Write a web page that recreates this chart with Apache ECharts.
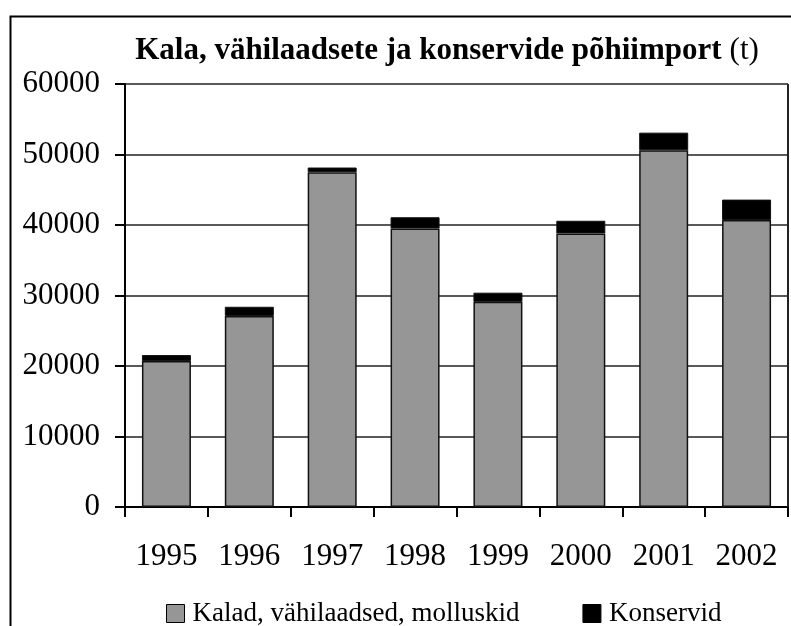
<!DOCTYPE html>
<html><head><meta charset="utf-8">
<script src="https://cdn.jsdelivr.net/npm/echarts@6/dist/echarts.min.js"></script>
<style>html,body{margin:0;padding:0;background:#fff}#c{width:791px;height:626px}</style>
</head><body><div id="c"></div>
<script>
const years = ['1995','1996','1997','1998','1999','2000','2001','2002'];
const kalad = [20700, 27100, 47500, 39500, 29100, 38800, 50600, 40700];
const konservid = [850, 1300, 650, 1600, 1300, 1800, 2500, 2900];
const yTicks = [0, 10000, 20000, 30000, 40000, 50000, 60000];
const seriesNames = ['Kalad, vähilaadsed, molluskid', 'Konservid'];
const titleMain = 'Kala, vähilaadsete ja konservide põhiimport';
const titleUnit = '(t)';

const chart = echarts.init(document.getElementById('c'), null, {renderer:'canvas'});
const font = '"Liberation Serif", "Times New Roman", serif';
chart.setOption({
  animation: false,
  backgroundColor: '#fff',
  textStyle: {fontFamily: font},
  graphic: [{
    type: 'rect', left: 8, top: 14, z: -1,
    shape: {width: 800, height: 700},
    style: {fill: 'none', stroke: '#000', lineWidth: 2}
  }, {
    type: 'line', z: 10, silent: true,
    shape: {x1: 788, y1: 84, x2: 788, y2: 507},
    style: {stroke: '#222', lineWidth: 2}
  }],
  title: {
    text: '{b|' + titleMain + '}{n|' + titleUnit + '}',
    left: 442, top: 30, textAlign: 'center',
    textStyle: {
      rich: {
        b: {fontFamily: font, fontSize: 31, fontWeight: 'bold', color: '#000'},
        n: {fontFamily: font, fontSize: 31, fontWeight: 'normal', color: '#000', padding: [0, 0, 0, 8]}
      }
    }
  },
  legend: {
    data: seriesNames,
    top: 595, left: 161,
    itemWidth: 18, itemHeight: 18, itemGap: 63,
    icon: 'rect',
    textStyle: {fontFamily: font, fontSize: 27, color: '#000', padding: [0, 0, 0, 3]},
    itemStyle: {borderColor: '#000', borderWidth: 1}
  },
  grid: {left: 125, top: 84, right: 3, bottom: 119, containLabel: false},
  xAxis: {
    type: 'category', data: years,
    axisLine: {lineStyle: {color: '#000', width: 2}},
    axisTick: {show: true, length: 10, lineStyle: {color: '#000', width: 2}, alignWithLabel: false},
    axisLabel: {fontFamily: font, fontSize: 31, color: '#000', margin: 34}
  },
  yAxis: {
    type: 'value', min: 0, max: 60000, interval: 10000,
    axisLine: {show: true, lineStyle: {color: '#000', width: 2}},
    axisTick: {show: true, length: 10, lineStyle: {color: '#000', width: 2}},
    axisLabel: {fontFamily: font, fontSize: 31, color: '#000', margin: 25,
      formatter: v => yTicks.includes(v) ? String(v) : ''},
    splitLine: {lineStyle: {color: '#222', width: 1.5}}
  },
  series: [{
    name: seriesNames[0], type: 'bar', stack: 's', data: kalad,
    barWidth: 49,
    itemStyle: {color: '#969696', borderColor: '#111', borderWidth: 1.5}
  }, {
    name: seriesNames[1], type: 'bar', stack: 's', data: konservid,
    barWidth: 49,
    itemStyle: {color: '#000', borderColor: '#111', borderWidth: 1}
  }]
});
</script></body></html>
